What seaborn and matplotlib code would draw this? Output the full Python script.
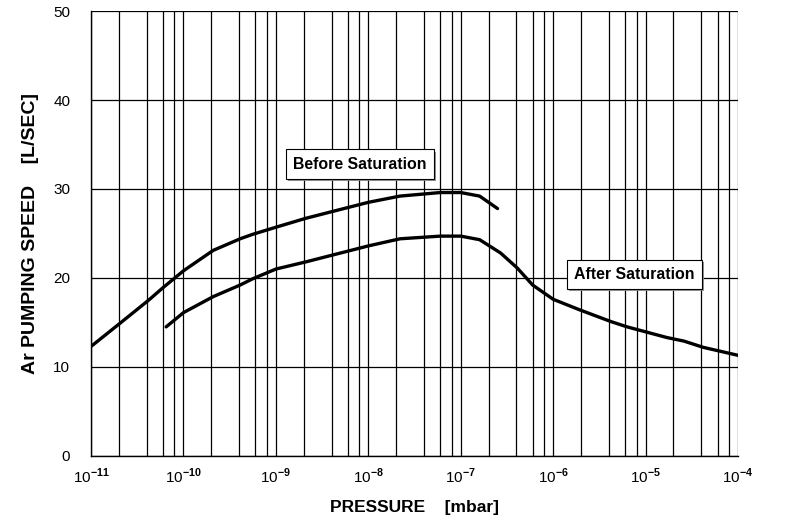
import numpy as np
import pandas as pd
import seaborn as sns
import matplotlib.pyplot as plt
import matplotlib.patheffects as pe
from matplotlib.ticker import FixedLocator, NullFormatter

# pumping speed curves
before_p = [1.0e-11, 2.0e-11, 4.2e-11, 6.0e-11, 1.0e-10, 2.1e-10, 4.1e-10, 5.6e-10,
            1.0e-9, 2.1e-9, 4.2e-9, 1.0e-8, 2.2e-8, 6.0e-8, 1.0e-7, 1.6e-7, 2.5e-7]
before_s = [12.3, 14.8, 17.5, 18.9, 20.8, 23.1, 24.4, 24.9,
            25.7, 26.7, 27.5, 28.5, 29.2, 29.6, 29.6, 29.2, 27.8]

after_p = [6.5e-11, 1.0e-10, 2.1e-10, 4.1e-10, 5.6e-10, 1.0e-9, 2.1e-9, 4.2e-9,
           1.0e-8, 2.2e-8, 6.0e-8, 1.0e-7, 1.6e-7, 2.7e-7, 4.1e-7, 6.0e-7,
           1.0e-6, 1.95e-6, 4.2e-6, 6.3e-6, 1.7e-5, 2.6e-5, 4.2e-5, 1.0e-4]
after_s = [14.5, 16.1, 17.9, 19.2, 19.9, 21.0, 21.8, 22.6,
           23.6, 24.4, 24.7, 24.7, 24.3, 22.8, 21.1, 19.2,
           17.6, 16.4, 15.1, 14.5, 13.3, 12.9, 12.2, 11.3]

decades = [-11, -10, -9, -8, -7, -6, -5, -4]
y_ticks = [0, 10, 20, 30, 40, 50]

sns.set_style('white')
plt.rcParams['font.family'] = ['Liberation Sans', 'DejaVu Sans']
plt.rcParams['mathtext.fontset'] = 'custom'
plt.rcParams['mathtext.rm'] = 'Liberation Sans'
plt.rcParams['mathtext.bf'] = 'Liberation Sans:bold'
plt.rcParams['text.color'] = 'black'
plt.rcParams['axes.labelcolor'] = 'black'
plt.rcParams['xtick.color'] = 'black'
plt.rcParams['ytick.color'] = 'black'

df = pd.concat([
    pd.DataFrame({'pressure': before_p, 'speed': before_s, 'curve': 'before'}),
    pd.DataFrame({'pressure': after_p, 'speed': after_s, 'curve': 'after'}),
])

fig = plt.figure(figsize=(7.86, 5.27), dpi=100)
ax = fig.add_axes([0.1158, 0.135, 0.8232, 0.844])

sns.lineplot(data=df, x='pressure', y='speed', units='curve', estimator=None,
             color='black', linewidth=2.4, sort=False, ax=ax, zorder=3)

ax.set_xscale('log')
ax.set_xlim(1e-11, 1e-4)
ax.set_ylim(0, 50)

# grid: decades plus 2,4,6,8 in each decade
ax.xaxis.set_major_locator(FixedLocator([10.0 ** d for d in decades]))
ax.set_xticklabels([r'10$^{\mathbf{%d}}$' % d for d in decades], fontsize=11)
minor = [m * 10.0 ** d for d in decades[:-1] for m in (2, 4, 6, 8)]
ax.xaxis.set_minor_locator(FixedLocator(minor))
ax.xaxis.set_minor_formatter(NullFormatter())
ax.set_yticks(y_ticks)
ax.set_yticklabels([str(v) for v in y_ticks], fontsize=11)

ax.grid(True, which='both', color='black', linewidth=0.9)
for side in ['top', 'right']:
    ax.spines[side].set_visible(False)
for side in ['left', 'bottom']:
    ax.spines[side].set_color('black')
    ax.spines[side].set_linewidth(1.0)

ax.tick_params(axis='x', which='major', direction='out', length=6, width=1, pad=2)
ax.tick_params(axis='x', which='minor', length=0)
ax.tick_params(axis='y', direction='out', length=7, width=1, pad=8)

ax.set_xlabel('PRESSURE    [mbar]', fontsize=12.5, fontweight='bold', labelpad=10)
ax.set_ylabel('Ar PUMPING SPEED    [L/SEC]', fontsize=14, fontweight='bold', labelpad=10)

boxes = [('Before Saturation', 10 ** -8.09, 32.8), ('After Saturation', 10 ** -5.12, 20.4)]
for label, x, y in boxes:
    t = ax.text(x, y, label, ha='center', va='center', fontsize=11.4, fontweight='bold',
                bbox=dict(boxstyle='square,pad=0.45', fc='white', ec='black', lw=0.8),
                zorder=5)
    t.get_bbox_patch().set_path_effects([
        pe.SimplePatchShadow(offset=(1.5, -1.5), shadow_rgbFace='#888888', alpha=0.9),
        pe.Normal()])

fig.savefig('out.png', dpi=100)
